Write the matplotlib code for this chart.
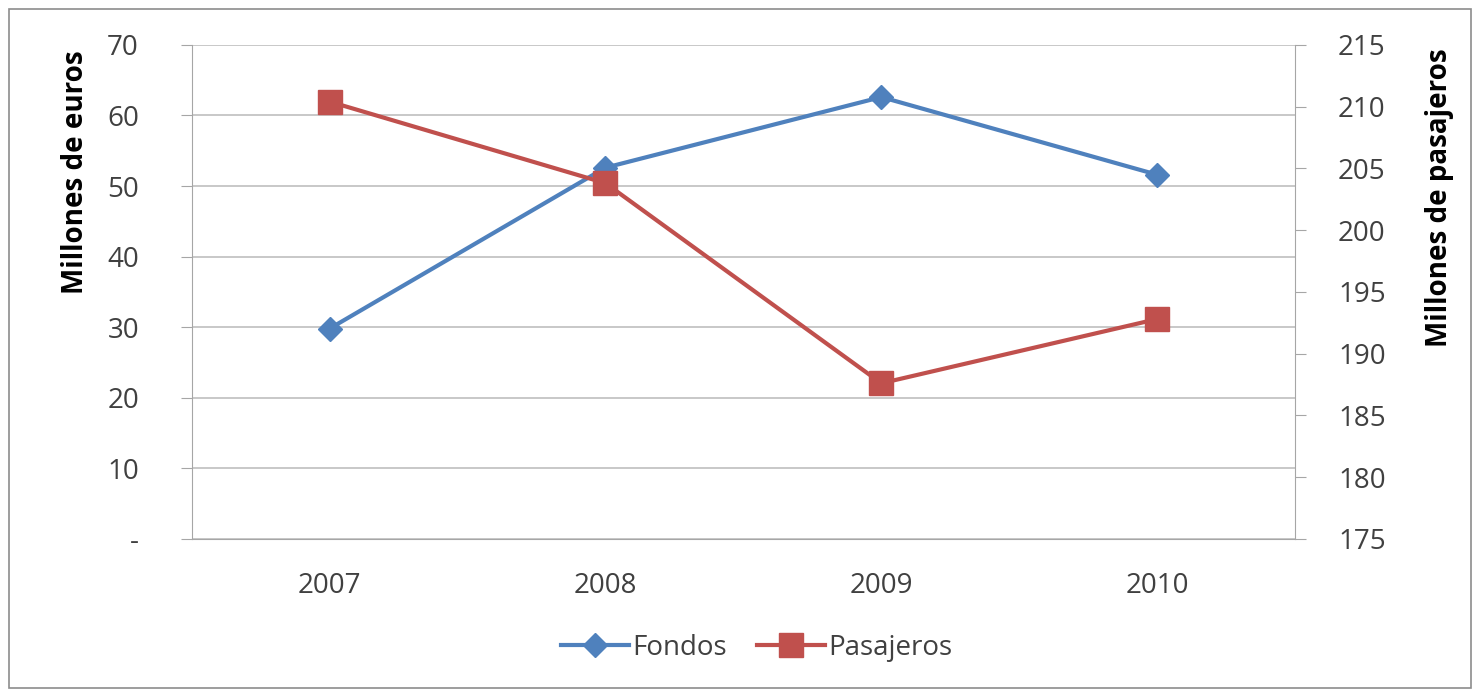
import matplotlib.pyplot as plt
from matplotlib.patches import Rectangle
from matplotlib.ticker import FuncFormatter

years = ["2007", "2008", "2009", "2010"]
fondos = [29.8, 52.6, 62.6, 51.6]          # millones de euros
pasajeros = [210.4, 203.8, 187.6, 192.8]   # millones de pasajeros

plt.rcParams["font.family"] = ["Open Sans", "DejaVu Sans"]

fig = plt.figure(figsize=(14.75, 6.9), dpi=100)
ax = fig.add_axes([0.130, 0.219, 0.748, 0.716])
ax2 = ax.twinx()

# marco exterior del grafico
fig.patches.append(Rectangle((0.006, 0.003), 0.991, 0.984, transform=fig.transFigure,
                             fill=False, edgecolor="#8c8c8c", linewidth=1.2))

x = range(len(years))
l1, = ax.plot(x, fondos, color="#4F81BD", lw=3, marker="D", ms=12,
              label="Fondos", zorder=3)
l2, = ax2.plot(x, pasajeros, color="#C0504D", lw=3, marker="s", ms=17,
               label="Pasajeros", zorder=3)

ax.set_xlim(-0.5, 3.5)
ax.set_ylim(0, 70)
ax.set_yticks(range(0, 71, 10))
ax.yaxis.set_major_formatter(FuncFormatter(lambda v, p: "-" if v == 0 else f"{v:.0f}"))
ax2.set_ylim(175, 215)
ax2.set_yticks(range(175, 216, 5))
ax.set_xticks(list(x))
ax.set_xticklabels(years)

ax.grid(axis="y", color="#bfbfbf", lw=1.2)
ax.set_axisbelow(True)
for a in (ax, ax2):
    a.spines["top"].set_visible(False)
    a.spines["left"].set_color("#a6a6a6")
    a.spines["right"].set_color("#a6a6a6")
    a.spines["bottom"].set_color("#a6a6a6")
ax2.spines["left"].set_visible(False)
ax2.spines["bottom"].set_visible(False)
ax.spines["right"].set_visible(False)

ax.tick_params(axis="y", length=8, color="#a6a6a6", labelsize=20, labelcolor="#404040", pad=30)
ax2.tick_params(axis="y", length=8, color="#a6a6a6", labelsize=20, labelcolor="#404040", pad=23)
ax.tick_params(axis="x", length=0, labelsize=20, labelcolor="#404040", pad=24)

ax.set_ylabel("Millones de euros", fontsize=20, fontweight="bold", labelpad=12)
ax2.set_ylabel("Millones de pasajeros", fontsize=20, fontweight="bold", labelpad=28)
# en el original los titulos de eje quedan en la parte alta
ax.yaxis.label.set_y(0.742)
ax2.yaxis.label.set_y(0.69)

fig.legend([l1, l2], ["Fondos", "Pasajeros"], loc="center", bbox_to_anchor=(0.513, 0.061),
           ncol=2, frameon=False, fontsize=20, handlelength=2.45, columnspacing=1.1,
           handletextpad=0.1, labelcolor="#404040")

fig.savefig("out.png", dpi=100)
